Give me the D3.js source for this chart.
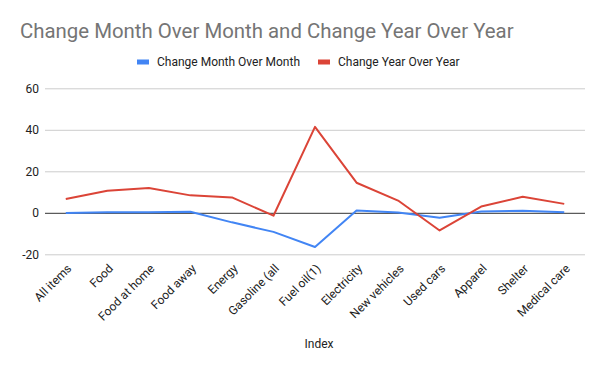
<!DOCTYPE html>
<html>
<head>
    <meta charset="utf-8">
    <script src="https://d3js.org/d3.v7.min.js"></script>
    <style>
        body { margin: 0; background: #fff; }
        text { font-family: Roboto, Arial, sans-serif; }
    </style>
</head>
<body>
    <svg id="chart" width="600" height="371"></svg>

    <script>
        var categories = ["All items", "Food", "Food at home", "Food away", "Energy", "Gasoline (all",
            "Fuel oil(1)", "Electricity", "New vehicles", "Used cars", "Apparel", "Shelter", "Medical care"];
        var monthOverMonth = [-0.1, 0.3, 0.3, 0.5, -4.6, -9.2, -16.5, 1.1, 0.2, -2.4, 0.6, 1.0, 0.3];
        var yearOverYear = [6.6, 10.6, 11.9, 8.4, 7.4, -1.4, 41.4, 14.5, 5.9, -8.5, 3.0, 7.7, 4.3];
        var yTicks = [-20, 0, 20, 40, 60];
        var seriesNames = ["Change Month Over Month", "Change Year Over Year"];
        var colors = ["#4285f4", "#db4437"];

        var svg = d3.select("#chart");
        var plotLeft = 45, plotRight = 585, plotTop = 88.3, plotBottom = 254.3;

        var xScale = d3.scalePoint().domain(categories).range([plotLeft, plotRight]).padding(0.5);
        var yScale = d3.scaleLinear().domain([-20, 60]).range([plotBottom, plotTop]);

        // title
        svg.append("text").attr("x", 20).attr("y", 38).attr("font-size", 20.4).attr("fill", "#757575").text("Change Month Over Month and Change Year Over Year");

        // legend
        var legend = svg.selectAll(".legend").data(seriesNames).enter().append("g").attr("class", "legend")
            .attr("transform", (d, i) => `translate(${i == 0 ? 137 : 318}, 62)`);
        legend.append("rect").attr("x", 0).attr("y", -2.5).attr("width", 12).attr("height", 5).attr("fill", (d, i) => colors[i]);
        legend.append("text").attr("x", 20).attr("y", 0).attr("dy", "0.35em").attr("font-size", 12).attr("fill", "#222").text(d => d);

        // grid + y axis
        var yAxis = svg.append("g").attr("transform", `translate(${plotLeft},0)`)
            .call(d3.axisLeft(yScale).tickValues(yTicks).tickFormat(d => String(d)).tickSize(-(plotRight - plotLeft)).tickPadding(6));
        yAxis.select(".domain").remove();
        yAxis.selectAll(".tick line").attr("stroke", d => d == 0 ? "#333" : "#ccc");
        yAxis.selectAll(".tick text").attr("font-size", 12).attr("fill", "#222").attr("font-family", "Roboto, Arial, sans-serif");

        // lines
        [monthOverMonth, yearOverYear].forEach(function (values, i) {
            var line = d3.line().x((d, j) => xScale(categories[j])).y(d => yScale(d));
            svg.append("path").datum(values).attr("d", line).attr("fill", "none")
                .attr("stroke", colors[i]).attr("stroke-width", 2).attr("stroke-linejoin", "round");
        });

        // x axis
        var xAxis = svg.append("g").attr("transform", `translate(0,${plotBottom})`)
            .call(d3.axisBottom(xScale).tickSize(0).tickPadding(0));
        xAxis.select(".domain").remove();
        xAxis.selectAll(".tick text").attr("font-size", 12).attr("fill", "#222").attr("font-family", "Roboto, Arial, sans-serif")
            .attr("text-anchor", "end").attr("dy", "0.35em").attr("transform", "translate(3,12) rotate(-45)");

        svg.append("text").attr("x", 319).attr("y", 348).attr("text-anchor", "middle").attr("font-size", 12).attr("fill", "#222").text("Index");
    </script>
</body>
</html>
